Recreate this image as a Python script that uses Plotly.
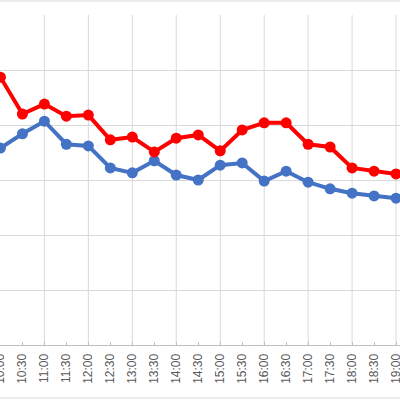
import plotly.graph_objects as go

times = ["10:00", "10:30", "11:00", "11:30", "12:00", "12:30", "13:00", "13:30",
         "14:00", "14:30", "15:00", "15:30", "16:00", "16:30", "17:00", "17:30",
         "18:00", "18:30", "19:00"]
red_vals = [48.7, 42.0, 43.8, 41.6, 41.8, 37.3, 37.8, 35.1, 37.6, 38.2,
            35.3, 39.1, 40.4, 40.4, 36.5, 36.0, 32.2, 31.6, 31.1]
blue_vals = [35.8, 38.4, 40.7, 36.5, 36.2, 32.2, 31.3, 33.5, 30.9, 30.0,
             32.7, 33.1, 29.8, 31.6, 29.6, 28.4, 27.6, 27.1, 26.7]

fig = go.Figure()
fig.add_trace(go.Scatter(x=times, y=blue_vals, mode="lines+markers",
                         line=dict(color="#4472C4", width=4),
                         marker=dict(color="#4472C4", size=11)))
fig.add_trace(go.Scatter(x=times, y=red_vals, mode="lines+markers",
                         line=dict(color="#FF0000", width=4),
                         marker=dict(color="#FF0000", size=11)))

# vertical gridlines on the full hours only
for i, t in enumerate(times):
    if t.endswith(":00") and i > 0:
        fig.add_vline(x=i, line=dict(color="#d9d9d9", width=1), layer="below")

# chart border lines (top and bottom of the chart area)
fig.add_shape(type="line", xref="paper", yref="paper", x0=0, x1=1,
              y0=344 / 330, y1=344 / 330, line=dict(color="#d9d9d9", width=1))
fig.add_shape(type="line", xref="paper", yref="paper", x0=0, x1=1,
              y0=-53 / 330, y1=-53 / 330, line=dict(color="#d9d9d9", width=1))

fig.update_xaxes(type="category", range=[-0.02, 18.18], showgrid=False,
                 automargin=False,
                 tickangle=-90, ticks="inside", ticklen=3, tickcolor="#bfbfbf",
                 ticklabelstandoff=3,
                 showline=True, linecolor="#bfbfbf", linewidth=1,
                 tickfont=dict(family="Liberation Sans", size=12, color="#595959"))
fig.update_yaxes(range=[0, 60], dtick=10, showgrid=True, gridcolor="#d9d9d9",
                 showticklabels=False, zeroline=False, automargin=False)

fig.update_layout(width=400, height=400, showlegend=False,
                  margin=dict(l=0, r=0, t=15, b=55),
                  plot_bgcolor="white", paper_bgcolor="white")

# page has a default 8px body margin; remove it so the figure sits at 0,0
fig.write_html("out.html", config={"displayModeBar": False},
               post_script="document.body.style.margin='0';")
